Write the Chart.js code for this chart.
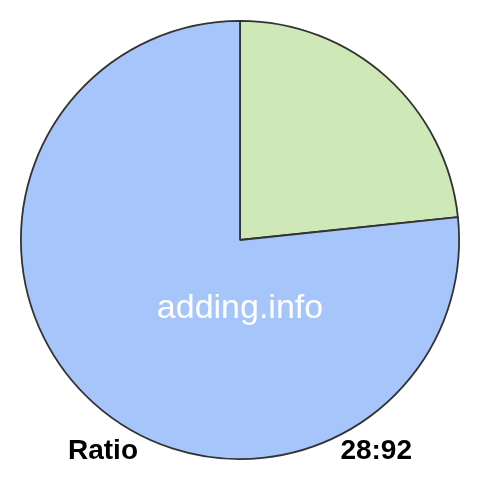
<!DOCTYPE html>
<html>
<head>
<meta charset="utf-8">
<script src="https://cdn.jsdelivr.net/npm/chart.js@4"></script>
<style>
  html, body { margin: 0; padding: 0; background: #fff; }
  #wrap { width: 480px; height: 480px; }
</style>
</head>
<body>
<div id="wrap"><canvas id="pie" width="480" height="480"></canvas></div>
<script>
// Chart data
const categories = ['Part', 'Rest'];
const values = [28, 92];
const sliceColors = ['#cfe8b8', '#a6c5fa'];
const ratioLabel = 'Ratio';
const ratioText = '28:92';
const watermark = 'adding.info';

// Draws the watermark and the ratio captions on top of the pie
const captionPlugin = {
    id: 'captions',
    afterDraw(chart) {
        const ctx = chart.ctx;
        ctx.save();
        ctx.fillStyle = '#ffffff';
        ctx.font = '34px "Liberation Sans", Arial, sans-serif';
        ctx.textAlign = 'center';
        ctx.textBaseline = 'alphabetic';
        ctx.fillText(watermark, 240, 318);

        ctx.fillStyle = '#000000';
        ctx.font = 'bold 28px "Liberation Sans", Arial, sans-serif';
        ctx.textAlign = 'left';
        ctx.fillText(ratioLabel, 68, 459);
        ctx.textAlign = 'right';
        ctx.fillText(ratioText, 412, 459);
        ctx.restore();
    }
};

new Chart(document.getElementById('pie'), {
    type: 'pie',
    data: {
        labels: categories,
        datasets: [{
            data: values,
            backgroundColor: sliceColors,
            borderColor: '#333333',
            borderWidth: 1.8
        }]
    },
    options: {
        responsive: false,
        animation: false,
        layout: { padding: 20 },
        plugins: {
            legend: { display: false },
            tooltip: { enabled: false }
        }
    },
    plugins: [captionPlugin]
});
</script>
</body>
</html>
